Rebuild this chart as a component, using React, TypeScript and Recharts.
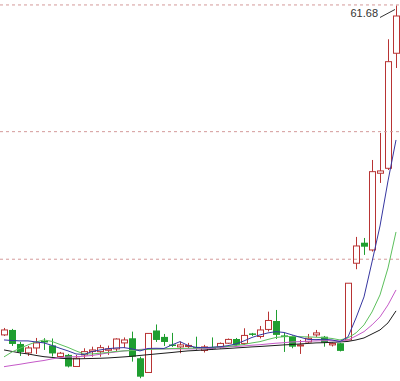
import React from 'react';
import { ComposedChart, Bar, Line, XAxis, YAxis, ReferenceLine, ReferenceDot } from 'recharts';

const days = [
  'D01','D02','D03','D04','D05','D06','D07','D08','D09','D10',
  'D11','D12','D13','D14','D15','D16','D17','D18','D19','D20',
  'D21','D22','D23','D24','D25','D26','D27','D28','D29','D30',
  'D31','D32','D33','D34','D35','D36','D37','D38','D39','D40',
  'D41','D42','D43','D44','D45','D46','D47','D48','D49','D50',
];

const opens = [
  30.38, 30.85, 29.52, 28.67, 29.14, 29.80, 29.38, 28.33, 28.48, 27.38,
  28.48, 28.81, 28.79, 28.92, 29.05, 29.62, 30.06, 28.16, 26.81, 30.80,
  30.19, 29.47, 29.24, 29.28, 29.24, 28.90, 29.19, 29.24, 29.59, 29.99,
  29.57, 30.52, 30.23, 30.90, 31.70, 30.33, 30.21, 29.33, 29.71, 30.38,
  30.21, 29.43, 29.59, 29.90, 37.19, 39.14, 38.45, 45.74, 46.21, 57.14,
];
const highs = [
  31.04, 30.95, 29.71, 29.33, 30.09, 30.07, 30.04, 28.76, 28.57, 28.48,
  29.11, 29.26, 29.43, 29.36, 30.06, 30.14, 30.69, 28.31, 30.55, 31.37,
  30.47, 30.57, 29.74, 29.62, 30.21, 29.43, 30.14, 29.66, 30.04, 30.09,
  31.01, 30.57, 31.23, 32.59, 32.75, 30.57, 30.33, 29.90, 30.47, 30.85,
  30.28, 29.66, 29.62, 35.29, 39.69, 39.59, 47.00, 49.57, 58.47, 61.68,
];
const lows = [
  30.28, 29.33, 28.38, 28.38, 28.57, 28.95, 28.33, 28.19, 27.29, 27.34,
  28.16, 28.31, 28.31, 28.48, 28.79, 29.14, 27.84, 26.26, 26.78, 29.71,
  29.33, 29.24, 28.64, 29.14, 28.95, 28.71, 28.95, 29.09, 29.52, 29.33,
  29.43, 30.28, 30.04, 30.71, 29.99, 28.76, 29.11, 28.57, 29.62, 30.19,
  29.26, 29.28, 28.81, 29.90, 36.62, 37.98, 38.30, 44.82, 46.05, 55.74,
];
const closes = [
  30.85, 29.52, 28.76, 29.14, 29.62, 29.74, 28.62, 28.64, 27.38, 28.16,
  28.79, 28.95, 29.17, 29.05, 29.99, 29.90, 28.31, 26.41, 30.52, 29.90,
  29.71, 29.38, 29.43, 29.38, 29.14, 29.24, 29.09, 29.57, 29.95, 29.43,
  30.33, 30.38, 30.85, 31.75, 30.38, 30.23, 29.26, 29.43, 30.06, 30.57,
  29.64, 29.57, 28.86, 35.29, 38.83, 38.76, 45.89, 45.96, 56.34, 60.68,
];

const ma5 = [
  29.90, 29.85, 29.81, 29.81, 29.71, 29.62, 29.38, 29.11, 28.86, 28.57,
  28.52, 28.79, 28.95, 29.07, 29.14, 29.17, 29.05, 28.86, 29.09, 29.11,
  29.09, 29.43, 29.74, 29.38, 29.19, 29.17, 29.21, 29.26, 29.36, 29.52,
  29.81, 30.14, 30.38, 30.57, 30.69, 30.61, 30.38, 30.16, 29.95, 29.93,
  29.97, 29.90, 29.74, 30.19, 31.99, 33.99, 37.31, 40.73, 45.01, 48.90,
];
const ma10 = [
  28.29, 28.76, 29.11, 29.43, 29.71, 29.90, 29.76, 29.47, 29.19, 28.86,
  28.57, 28.57, 28.64, 28.71, 28.81, 28.86, 28.90, 28.95, 29.00, 29.03,
  29.05, 29.09, 29.09, 29.11, 29.14, 29.14, 29.19, 29.24, 29.28, 29.38,
  29.47, 29.62, 29.74, 29.95, 30.14, 30.21, 30.23, 30.21, 30.19, 30.16,
  30.12, 30.04, 29.90, 30.09, 30.57, 31.33, 32.56, 34.18, 36.74, 40.16,
];
const ma20 = [
  27.36, 27.48, 27.59, 27.72, 27.84, 27.95, 28.10, 28.22, 28.29, 28.31,
  28.35, 28.43, 28.54, 28.67, 28.76, 28.86, 28.90, 29.00, 29.05, 29.05,
  29.05, 29.05, 29.05, 29.05, 29.05, 29.07, 29.11, 29.17, 29.24, 29.28,
  29.33, 29.40, 29.45, 29.52, 29.59, 29.64, 29.71, 29.74, 29.78, 29.81,
  29.83, 29.83, 29.81, 29.90, 30.28, 30.69, 31.33, 32.09, 33.23, 34.65,
];
const ma30 = [
  28.95, 28.81, 28.67, 28.57, 28.43, 28.31, 28.24, 28.16, 28.12, 28.10,
  28.12, 28.14, 28.16, 28.19, 28.24, 28.29, 28.35, 28.43, 28.50, 28.57,
  28.64, 28.71, 28.79, 28.86, 28.90, 28.95, 29.00, 29.05, 29.09, 29.14,
  29.19, 29.24, 29.28, 29.33, 29.38, 29.43, 29.47, 29.52, 29.57, 29.62,
  29.64, 29.68, 29.71, 29.76, 29.90, 30.09, 30.47, 30.85, 31.52, 32.66,
];

const gridPrices = [37.57, 49.69, 61.73];
const peakValue = 61.68;
const peakLabel = '61.68';
const priceDomain = [26, 62.2];

const RED = '#b83434';
const GREEN = '#1f9e30';

const data = days.map((day, i) => ({
  day,
  open: opens[i],
  high: highs[i],
  low: lows[i],
  close: closes[i],
  ma5: ma5[i],
  ma10: ma10[i],
  ma20: ma20[i],
  ma30: ma30[i],
}));

function Candle(props: any) {
  const { x, y, width, height, payload } = props;
  if (!payload || x == null || y == null) return null;
  const { open, close, high, low } = payload;
  const span = high - low;
  const h = Math.abs(height);
  const y0 = Math.min(y, y + height);
  const toPx = (v: number) => (span === 0 ? y0 : y0 + ((high - v) / span) * h);
  const n = Math.floor(x + width / 2);
  const cx = n + 0.5;
  const up = close >= open;
  const top = toPx(Math.max(open, close));
  const bot = toPx(Math.min(open, close));
  const yH = toPx(high);
  const yL = toPx(low);
  if (up) {
    return (
      <g>
        {top - yH > 0.5 && <line x1={cx} x2={cx} y1={yH} y2={top} stroke={RED} strokeWidth={1} />}
        {yL - bot > 0.5 && <line x1={cx} x2={cx} y1={bot} y2={yL} stroke={RED} strokeWidth={1} />}
        <rect x={n - 2.5} y={top} width={6} height={Math.max(bot - top, 1)} fill="none" stroke={RED} strokeWidth={1} />
      </g>
    );
  }
  return (
    <g>
      <line x1={cx} x2={cx} y1={yH} y2={yL} stroke={GREEN} strokeWidth={1} />
      <rect x={n - 3} y={top} width={7} height={Math.max(bot - top, 1.5)} fill={GREEN} stroke="none" />
    </g>
  );
}

function PeakLabel(props: any) {
  const { cx, cy } = props;
  if (cx == null || cy == null) return null;
  return (
    <g>
      <line x1={cx - 16} y1={cy + 12} x2={cx - 1} y2={cy + 4} stroke="#333" strokeWidth={1} />
      <text
        x={cx - 18}
        y={cy + 11.5}
        textAnchor="end"
        fontFamily="'Liberation Sans', Arial, sans-serif"
        fontSize={11}
        fill="#333"
      >
        {peakLabel}
      </text>
    </g>
  );
}

export default function App() {
  return (
    <div style={{ position: 'absolute', left: 0, top: 0, width: 400, height: 381, background: '#fff' }}>
      <ComposedChart width={400} height={381} data={data} margin={{ top: 0, right: 0, bottom: 0, left: 0 }}>
        <XAxis dataKey="day" hide />
        <YAxis hide domain={priceDomain} allowDataOverflow type="number" />
        {gridPrices.map((g) => (
          <ReferenceLine key={g} y={g} stroke="#d49a9a" strokeDasharray="3 3" strokeWidth={1} />
        ))}
        <Bar
          dataKey={(d: any) => [d.low, d.high]}
          barSize={6}
          isAnimationActive={false}
          shape={(p: any) => <Candle {...p} />}
        />
        <Line dataKey="ma30" type="linear" stroke="#1c1c1c" strokeWidth={1} dot={false} activeDot={false} isAnimationActive={false} />
        <Line dataKey="ma20" type="linear" stroke="#c55ac8" strokeWidth={1} dot={false} activeDot={false} isAnimationActive={false} />
        <Line dataKey="ma10" type="linear" stroke="#5cc05c" strokeWidth={1} dot={false} activeDot={false} isAnimationActive={false} />
        <Line dataKey="ma5" type="linear" stroke="#3636a0" strokeWidth={1} dot={false} activeDot={false} isAnimationActive={false} />
        <ReferenceDot x={days[49]} y={peakValue} r={0} shape={(p: any) => <PeakLabel {...p} />} />
      </ComposedChart>
    </div>
  );
}
